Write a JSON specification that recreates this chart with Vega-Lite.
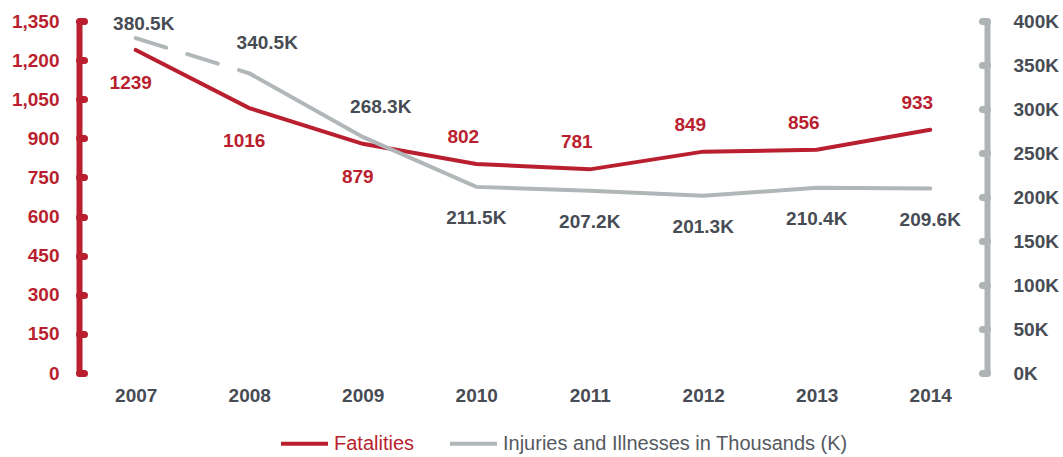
{
  "$schema": "https://vega.github.io/schema/vega-lite/v6.json",
  "width": 908,
  "height": 352,
  "autosize": {"type": "none"},
  "padding": {"left": 79, "top": 21, "right": 76, "bottom": 84},
  "background": "white",
  "config": {
    "view": {"stroke": null},
    "font": "Liberation Sans",
    "axis": {"grid": false, "title": null}
  },
  "data": {
    "values": [
      {"year": "2007", "fatalities": 1239, "injuries": 380.5},
      {"year": "2008", "fatalities": 1016, "injuries": 340.5},
      {"year": "2009", "fatalities": 879, "injuries": 268.3},
      {"year": "2010", "fatalities": 802, "injuries": 211.5},
      {"year": "2011", "fatalities": 781, "injuries": 207.2},
      {"year": "2012", "fatalities": 849, "injuries": 201.3},
      {"year": "2013", "fatalities": 856, "injuries": 210.4},
      {"year": "2014", "fatalities": 933, "injuries": 209.6}
    ]
  },
  "encoding": {
    "x": {
      "field": "year",
      "type": "ordinal",
      "scale": {"type": "point", "padding": 0.5},
      "axis": {
        "labelAngle": 0,
        "domain": false,
        "ticks": false,
        "labelPadding": 13,
        "labelFont": "Liberation Sans",
        "labelFontSize": 19,
        "labelFontWeight": "bold",
        "labelColor": "#474c54"
      }
    }
  },
  "layer": [
    {
      "encoding": {
        "y": {
          "field": "fatalities",
          "type": "quantitative",
          "scale": {"domain": [0, 1350], "nice": false},
          "axis": {
            "orient": "left",
            "values": [0, 150, 300, 450, 600, 750, 900, 1050, 1200, 1350],
            "format": ",d",
            "labelColor": "#b91f2e",
            "labelFontSize": 19,
            "labelFontWeight": "bold",
            "labelPadding": 25,
            "domainColor": "#b91f2e",
            "domainWidth": 6,
            "domainCap": "round",
            "tickColor": "#b91f2e",
            "tickWidth": 7,
            "tickCap": "round",
            "tickSize": -5
          }
        }
      },
      "layer": [
        {
          "mark": {"type": "line", "strokeWidth": 4, "strokeCap": "round"},
          "encoding": {
            "color": {
              "datum": "Fatalities",
              "scale": {
                "domain": ["Fatalities", "Injuries and Illnesses in Thousands (K)"],
                "range": ["#b91f2e", "#b1b6b9"]
              },
              "legend": {
                "title": null,
                "orient": "none",
                "direction": "horizontal",
                "legendX": 200,
                "legendY": 397,
                "symbolType": "stroke",
                "symbolSize": 2209,
                "symbolStrokeWidth": 4,
                "labelFont": "Liberation Sans",
                "labelFontSize": 20,
                "labelOffset": 4,
                "columnPadding": 27,
                "labelLimit": 600,
                "labelColor": {"expr": "datum.label == 'Fatalities' ? '#b91f2e' : '#555a61'"}
              }
            }
          }
        },
        {
          "transform": [{"filter": "datum.year <= '2009'"}],
          "mark": {"type": "text", "fontSize": 19, "fontWeight": "bold", "color": "#b91f2e", "dx": -5, "dy": 33},
          "encoding": {"text": {"field": "fatalities", "type": "quantitative", "format": "d"}}
        },
        {
          "transform": [{"filter": "datum.year >= '2010'"}],
          "mark": {"type": "text", "fontSize": 19, "fontWeight": "bold", "color": "#b91f2e", "dx": -13, "dy": -27},
          "encoding": {"text": {"field": "fatalities", "type": "quantitative", "format": "d"}}
        }
      ]
    },
    {
      "encoding": {
        "y": {
          "field": "injuries",
          "type": "quantitative",
          "scale": {"domain": [0, 400], "nice": false},
          "axis": {
            "orient": "right",
            "values": [0, 50, 100, 150, 200, 250, 300, 350, 400],
            "labelExpr": "datum.value + 'K'",
            "labelColor": "#474c54",
            "labelFontSize": 19,
            "labelFontWeight": "bold",
            "labelPadding": 31,
            "domainColor": "#aeb3b6",
            "domainWidth": 6,
            "domainCap": "round",
            "tickColor": "#aeb3b6",
            "tickWidth": 7,
            "tickCap": "round",
            "tickSize": -5
          }
        }
      },
      "layer": [
        {
          "transform": [{"filter": "datum.year >= '2008'"}],
          "mark": {"type": "line", "strokeWidth": 4, "strokeCap": "round"},
          "encoding": {"color": {"datum": "Injuries and Illnesses in Thousands (K)"}}
        },
        {
          "transform": [{"filter": "datum.year <= '2008'"}],
          "mark": {"type": "line", "strokeWidth": 4, "strokeCap": "round", "strokeDash": [32, 22]},
          "encoding": {"color": {"datum": "Injuries and Illnesses in Thousands (K)"}}
        },
        {
          "transform": [{"filter": "datum.year == '2007'"}],
          "mark": {"type": "text", "fontSize": 19, "fontWeight": "bold", "color": "#474c54", "dx": 8, "dy": -14,
                   "text": {"expr": "format(datum.injuries, '.1f') + 'K'"}},
          "encoding": {}
        },
        {
          "transform": [{"filter": "datum.year == '2008' || datum.year == '2009'"}],
          "mark": {"type": "text", "fontSize": 19, "fontWeight": "bold", "color": "#474c54", "dx": 18, "dy": -30,
                   "text": {"expr": "format(datum.injuries, '.1f') + 'K'"}},
          "encoding": {}
        },
        {
          "transform": [{"filter": "datum.year >= '2010'"}],
          "mark": {"type": "text", "fontSize": 19, "fontWeight": "bold", "color": "#474c54", "dy": 31,
                   "text": {"expr": "format(datum.injuries, '.1f') + 'K'"}},
          "encoding": {}
        }
      ]
    }
  ],
  "resolve": {"scale": {"y": "independent"}}
}
